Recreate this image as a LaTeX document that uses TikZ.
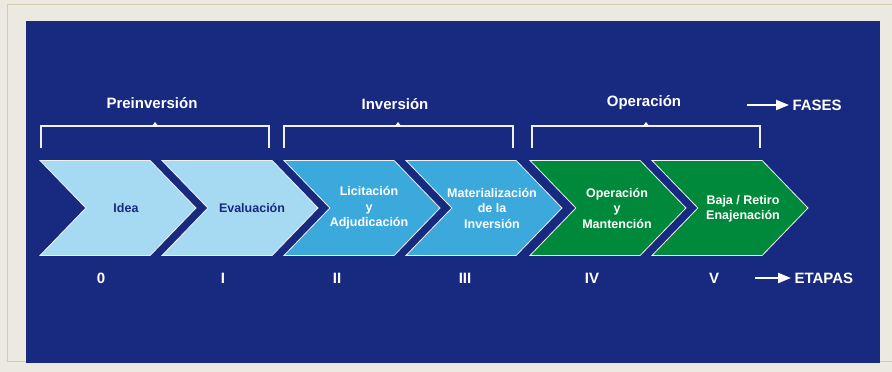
\documentclass[tikz,border=0pt]{standalone}
\usepackage{fontspec}
\setmainfont{Liberation Sans}
\usetikzlibrary{shapes.symbols, positioning, arrows.meta, calc}
\definecolor{navy}{HTML}{172A80}
\definecolor{paper}{HTML}{ECE9E1}
\definecolor{rim}{HTML}{D6CAAC}
\definecolor{paleblue}{HTML}{A6DAF3}
\definecolor{midblue}{HTML}{3BA9DC}
\definecolor{leafgreen}{HTML}{00893A}
\tikzset{%
  chev/.style={signal, signal from=west, signal to=east, signal pointer angle=92,
    minimum width=156pt, minimum height=95pt, inner sep=0pt,
    draw=white!88!gray, line width=0.8pt},
  stage/.style={font=\bfseries\fontsize{12.5}{15.5}\selectfont, align=center, text=white},
  phase/.style={font=\bfseries\fontsize{15}{18}\selectfont, text=white},
  bracket/.style={draw=white!88!gray, line width=1.2pt},
  keyarrow/.style={white, line width=2.2pt, -{Triangle[length=13pt,width=10pt]}}
}
\begin{document}
\begin{tikzpicture}[x=1pt,y=-1pt]
  \useasboundingbox (0,0) rectangle (892,372);
  \fill[paper] (0,0) rectangle (892,372);
  \draw[rim, line width=1pt] (892,4) -- (7,4) -- (7,361) -- (892,361);
  \fill[navy] (26,21) rectangle (880,363);

  % stages
  \node[chev, fill=paleblue] (idea) at (118,208) {};
  \node[chev, fill=paleblue] (eval) at (240,208) {};
  \node[chev, fill=midblue] (licit) at (362,208) {};
  \node[chev, fill=midblue] (mater) at (484,208) {};
  \node[chev, fill=leafgreen] (oper) at (608,208) {};
  \node[chev, fill=leafgreen] (baja) at (730,208) {};

  \node[stage, text=navy] (idea-t) at ([xshift=8pt]idea.center) {Idea};
  \node[stage, text=navy] (eval-t) at ([xshift=12pt]eval.center) {Evaluación};
  \node[stage] (licit-t) at ([xshift=7pt]licit.center) {Licitación\\y\\Adjudicación};
  \node[stage] (mater-t) at ([xshift=8pt]mater.center) {Materialización\\de la\\Inversión};
  \node[stage] (oper-t) at ([xshift=9pt]oper.center) {Operación\\y\\Mantención};
  \node[stage] (baja-t) at ([xshift=13pt,yshift=-1pt]baja.center) {Baja / Retiro\\Enajenación};

  % phases
  \node[phase] (pre) at (152,103) {Preinversión};
  \node[phase] (inv) at (395,104) {Inversión};
  \node[phase] (ope) at (644,103) {Operación};
  \node[phase, anchor=west] (fases) at (789,105) {FASES};
  \coordinate (fases-tail) at (747,105);
  \draw[keyarrow] (fases-tail) -- (fases.west);

  \draw[bracket] (41,148) -- (41,126) -- (269,126) -- (269,148);
  \draw[bracket] (284,148) -- (284,126) -- (513,126) -- (513,148);
  \draw[bracket] (532,148) -- (532,126) -- (760,126) -- (760,148);
  \fill[white] (152,126) -- (155,122) -- (158,126) -- cycle;
  \fill[white] (395,126) -- (398,122) -- (401,126) -- cycle;
  \fill[white] (643,126) -- (646,122) -- (649,126) -- cycle;

  % etapas
  \node[phase] (s0) at (101,278) {0};
  \node[phase] (s1) at (223,278) {I};
  \node[phase] (s2) at (337,278) {II};
  \node[phase] (s3) at (465,278) {III};
  \node[phase] (s4) at (592,278) {IV};
  \node[phase] (s5) at (714,278) {V};
  \node[phase, anchor=west] (etapas) at (791,278) {ETAPAS};
  \coordinate (etapas-tail) at (755,278);
  \draw[keyarrow] (etapas-tail) -- (etapas.west);
\end{tikzpicture}
\end{document}
